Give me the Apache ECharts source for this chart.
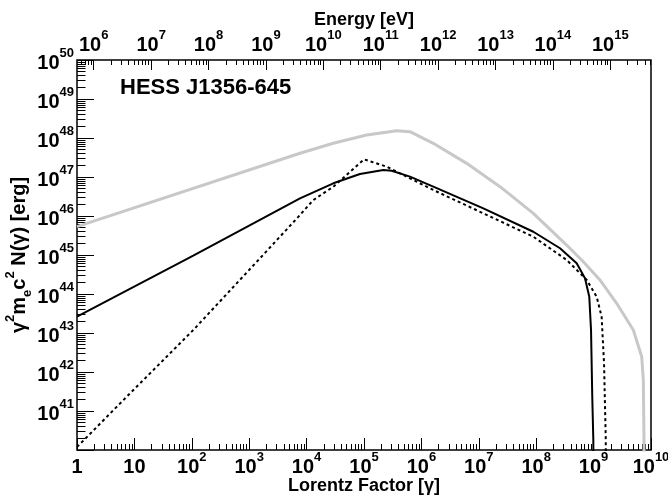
<!DOCTYPE html>
<html>
<head>
<meta charset="utf-8">
<script src="https://cdn.jsdelivr.net/npm/echarts@6/dist/echarts.min.js"></script>
<style>
  html, body { margin: 0; padding: 0; background: #fff; }
  #chart { width: 668px; height: 498px; }
</style>
</head>
<body>
<div id="chart"></div>
<script>
// Electron spectra gamma^2 m_e c^2 N(gamma) versus Lorentz factor.

// Grey curve
const gammaGrey = [1, 7.67e3, 2.92e4, 1.11e5, 3.72e5, 6.32e5, 1.61e6, 6.15e6, 2.34e7, 8.91e7, 3.39e8, 6.62e8, 1.29e9, 2.52e9, 4.92e9, 6.89e9, 7.35e9, 7.55e9, 7.55e9];
const energyGrey = [5.32e45, 4.06e47, 7.31e47, 1.19e48, 1.54e48, 1.45e48, 7.31e47, 2.24e47, 5.64e46, 1.17e46, 1.80e45, 6.73e44, 2.29e44, 5.78e43, 1.19e43, 2.47e42, 6.24e41, 1.80e40, 8e39];

// Solid black curve
const gammaSolid = [1, 1.06e2, 7.67e3, 2.92e4, 8.51e4, 2.17e5, 3.03e5, 6.32e5, 1.61e6, 1.20e7, 8.91e7, 2.60e8, 5.07e8, 7.08e8, 8.41e8, 9.02e8, 9.48e8, 9.89e8, 9.89e8];
const energySolid = [2.62e43, 9.6e44, 2.84e46, 6.89e46, 1.19e47, 1.51e47, 1.45e47, 1.02e47, 5.64e46, 1.57e46, 3.95e45, 1.49e45, 6.12e44, 2.53e44, 8.53e43, 1.19e43, 2.33e41, 1.80e40, 8e39];

// Dashed black curve
const gammaDashed = [1, 7.35, 1.06e2, 1.54e3, 7.67e3, 1.31e4, 2.92e4, 1.0e5, 2.48e5, 1.61e6, 1.20e7, 8.91e7, 3.40e8, 7.59e8, 1.13e9, 1.38e9, 1.52e9, 1.63e9, 1.63e9];
const energyDashed = [1.19e40, 2.33e41, 1.19e43, 8.22e44, 1.06e46, 2.57e46, 5.64e46, 2.84e47, 1.84e47, 4.65e46, 1.17e46, 2.94e45, 7.45e44, 2.29e44, 8.53e43, 2.62e43, 1.67e42, 1.80e40, 8e39];

// Axis ranges and labelled decades
const gammaRange = [1, 1e10];
const energyRange = [1e40, 1e50];
const gammaLabels = [1, 1e1, 1e2, 1e3, 1e4, 1e5, 1e6, 1e7, 1e8, 1e9, 1e10];
const energyLabels = [1e41, 1e42, 1e43, 1e44, 1e45, 1e46, 1e47, 1e48, 1e49, 1e50];
const photonLabels = [1e6, 1e7, 1e8, 1e9, 1e10, 1e11, 1e12, 1e13, 1e14, 1e15];
const MEC2_EV = 510998.95; // electron rest energy in eV
const photonRange = [gammaRange[0] * MEC2_EV, gammaRange[1] * MEC2_EV];

const FONT = '"Liberation Sans", Arial, Helvetica, sans-serif';

function zip(xs, ys) { return xs.map((x, i) => [x, ys[i]]); }

// Tick positions k * 10^d inside [lo, hi]; major = decades, minor = 2..9
function logTicks(lo, hi, major) {
  const out = [];
  const d0 = Math.floor(Math.log10(lo)) - 1, d1 = Math.ceil(Math.log10(hi)) + 1;
  for (let d = d0; d <= d1; d++) {
    for (let k = 1; k <= 9; k++) {
      if ((k === 1) !== major) continue;
      const v = k * Math.pow(10, d);
      if (v >= lo * (1 - 1e-9) && v <= hi * (1 + 1e-9)) out.push(v);
    }
  }
  return out;
}

function powLabel(v) {
  const lg = Math.log10(v);
  const e = Math.round(lg);
  if (Math.abs(lg - e) > 1e-6) return '';
  if (e === 0) return '{b|1}';
  if (e === 1) return '{b|10}';
  return '{b|10}{s|' + e + '}';
}

const labelRich = {
  b: { fontFamily: FONT, fontWeight: 'bold', fontSize: 20, lineHeight: 26, verticalAlign: 'bottom', color: '#000' },
  s: { fontFamily: FONT, fontWeight: 'bold', fontSize: 13, lineHeight: 26, verticalAlign: 'top', color: '#000' }
};
const titleStyle = { fontFamily: FONT, fontWeight: 'bold', fontSize: 18, color: '#000' };
const tickLine = { color: '#000', width: 1 };

// Axis carrying only minor ticks
function minorAxis(position, range, len) {
  return {
    type: 'log', logBase: 10, position: position, min: range[0], max: range[1],
    axisLine: { show: false }, splitLine: { show: false }, axisLabel: { show: false },
    axisTick: { show: true, inside: true, length: len, lineStyle: tickLine, customValues: logTicks(range[0], range[1], false) }
  };
}

const chart = echarts.init(document.getElementById('chart'), null, { renderer: 'canvas' });

chart.setOption({
  animation: false,
  backgroundColor: '#fff',
  title: {
    text: 'HESS J1356-645',
    left: 120, top: 77, padding: 0,
    textStyle: { fontFamily: FONT, fontWeight: 'bold', fontSize: 22, color: '#000', lineHeight: 22 }
  },
  grid: {
    left: 77, right: 17, top: 60, bottom: 48,
    outerBoundsMode: 'none', containLabel: false,
    show: true, borderColor: '#000', borderWidth: 1.5, backgroundColor: 'transparent'
  },
  xAxis: [
    {
      type: 'log', logBase: 10, position: 'bottom',
      min: gammaRange[0], max: gammaRange[1],
      name: 'Lorentz Factor [γ]', nameLocation: 'middle', nameGap: 27, nameMoveOverlap: false,
      nameTextStyle: titleStyle,
      axisLine: { show: false }, splitLine: { show: false },
      axisTick: { show: true, inside: true, length: 12, lineStyle: tickLine, customValues: logTicks(gammaRange[0], gammaRange[1], true) },
      axisLabel: {
        customValues: gammaLabels, formatter: powLabel, margin: 1,
        showMinLabel: true, showMaxLabel: true, hideOverlap: false, rich: labelRich
      }
    },
    {
      type: 'log', logBase: 10, position: 'top',
      min: photonRange[0], max: photonRange[1],
      name: 'Energy [eV]', nameLocation: 'middle', nameGap: 31, nameMoveOverlap: false,
      nameTextStyle: titleStyle,
      axisLine: { show: false }, splitLine: { show: false },
      axisTick: { show: true, inside: true, length: 10, lineStyle: tickLine, customValues: logTicks(photonRange[0], photonRange[1], true) },
      axisLabel: {
        customValues: photonLabels, formatter: powLabel, margin: 5,
        showMinLabel: true, showMaxLabel: true, hideOverlap: false, rich: labelRich
      }
    },
    minorAxis('bottom', gammaRange, 6),
    minorAxis('top', photonRange, 5)
  ],
  yAxis: [
    {
      type: 'log', logBase: 10, position: 'left',
      min: energyRange[0], max: energyRange[1],
      name: '{g|γ}{s|2}{m|m}{u|e}{m|c}{s|2}{m| N(γ) [erg]}',
      nameLocation: 'middle', nameRotate: 90, nameGap: 43, nameMoveOverlap: false,
      nameTextStyle: {
        rich: {
          g: { fontFamily: FONT, fontWeight: 'bold', fontSize: 20, lineHeight: 30, verticalAlign: 'middle', color: '#000' },
          m: { fontFamily: FONT, fontWeight: 'bold', fontSize: 20, lineHeight: 30, verticalAlign: 'middle', color: '#000' },
          s: { fontFamily: FONT, fontWeight: 'bold', fontSize: 13, lineHeight: 30, verticalAlign: 'top', color: '#000' },
          u: { fontFamily: FONT, fontWeight: 'bold', fontSize: 13, lineHeight: 30, verticalAlign: 'bottom', color: '#000' }
        }
      },
      axisLine: { show: false }, splitLine: { show: false },
      axisTick: { show: true, inside: true, length: 17, lineStyle: tickLine, customValues: logTicks(energyRange[0], energyRange[1], true) },
      axisLabel: {
        customValues: energyLabels, formatter: powLabel, margin: 3,
        showMinLabel: true, showMaxLabel: true, hideOverlap: false, rich: labelRich
      }
    },
    minorAxis('left', energyRange, 8.5)
  ],
  series: [
    {
      type: 'line', xAxisIndex: 0, yAxisIndex: 0, data: zip(gammaGrey, energyGrey),
      showSymbol: false, symbol: 'none', smooth: false, silent: true,
      lineStyle: { color: '#c8c8c8', width: 3 }
    },
    {
      type: 'line', xAxisIndex: 0, yAxisIndex: 0, data: zip(gammaSolid, energySolid),
      showSymbol: false, symbol: 'none', smooth: false, silent: true,
      lineStyle: { color: '#000', width: 2 }
    },
    {
      type: 'line', xAxisIndex: 0, yAxisIndex: 0, data: zip(gammaDashed, energyDashed),
      showSymbol: false, symbol: 'none', smooth: false, silent: true,
      lineStyle: { color: '#000', width: 2, type: [3, 3] }
    }
  ]
});
</script>
</body>
</html>
